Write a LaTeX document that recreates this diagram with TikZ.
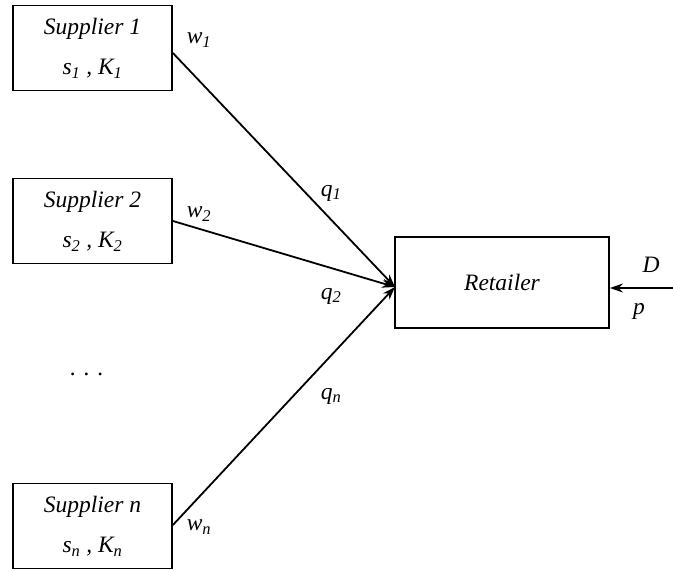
\documentclass[tikz,border=0pt]{standalone}
\usepackage{fontspec}
\setmainfont{Liberation Serif}
\usetikzlibrary{arrows.meta}

\begin{document}
\begin{tikzpicture}[x=1pt, y=-1pt, >={Stealth[length=13pt, width=9pt]}, line width=1.8pt,
    every node/.style={font=\fontsize{23.5}{40}\selectfont\itshape},
    box/.style={draw, rectangle, minimum width=159pt, minimum height=85pt, align=center, inner sep=0pt}]

    \useasboundingbox (0,0) rectangle (673,571);

    % Suppliers
    \node[box] at (92.5, 48) (s1) {Supplier 1\\s\textsubscript{1} , K\textsubscript{1}};
    \node[box] at (92.5, 221) (s2) {Supplier 2\\s\textsubscript{2} , K\textsubscript{2}};
    \node at (87, 374) (dots) {.\,\,.\,\,.};
    \node[box] at (92.5, 526) (sn) {Supplier n\\s\textsubscript{n} , K\textsubscript{n}};

    % Retailer
    \node[box, minimum width=214pt, minimum height=91pt] at (502, 282.5) (ret) {Retailer};
    \coordinate (in) at (395, 287);
    \coordinate (dsrc) at (673, 288);

    % Orders
    \draw[->] ([yshift=-5pt]s1.east) -- (in);
    \draw[->] (s2.east) -- (in);
    \draw[->] ([yshift=1pt]sn.east) -- (in);
    \draw[->] (dsrc) -- (dsrc -| ret.east);

    % Labels
    \node at (199, 40) (w1) {w\textsubscript{1}};
    \node at (199, 214) (w2) {w\textsubscript{2}};
    \node at (199, 527) (wn) {w\textsubscript{n}};
    \node at (331, 193) (q1) {q\textsubscript{1}};
    \node at (331, 296) (q2) {q\textsubscript{2}};
    \node at (331, 396) (qn) {q\textsubscript{n}};
    \node at (651, 265) (D) {D};
    \node at (639, 311) (p) {p};
\end{tikzpicture}
\end{document}
